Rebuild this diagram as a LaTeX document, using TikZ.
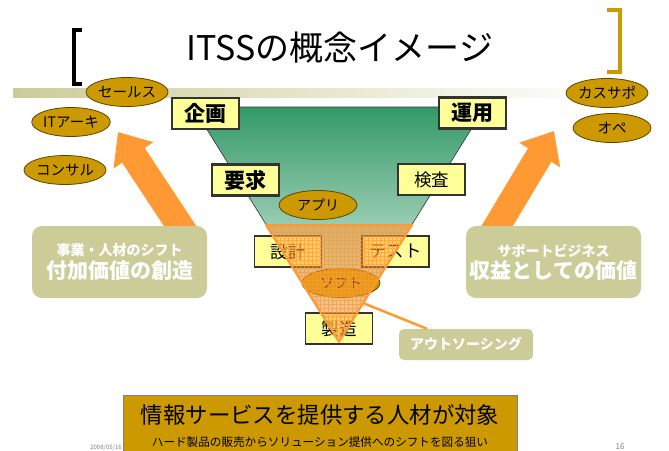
\documentclass[tikz,border=0pt]{standalone}
\usepackage{fontspec}
\setmainfont{Noto Sans CJK JP}
\usetikzlibrary{arrows.meta,shapes.geometric}

\definecolor{gold}{HTML}{CC9900}
\definecolor{rolebrown}{HTML}{5C4500}
\definecolor{paleyellow}{HTML}{FFFF99}
\definecolor{boxline}{HTML}{333333}
\definecolor{khaki}{HTML}{CCCC99}
\definecolor{arroworange}{HTML}{FF9933}
\definecolor{funnelgreen}{HTML}{339966}

\tikzset{
    role/.style={ellipse, draw=rolebrown, line width=0.8pt, fill=gold,
        minimum width=78pt, minimum height=29pt, inner sep=0pt,
        font=\fontsize{14.5}{14.5}\selectfont},
    phase/.style={rectangle, draw=boxline, line width=1.2pt, fill=paleyellow,
        minimum width=67pt, minimum height=31pt, inner sep=0pt,
        font=\fontsize{17.5}{17.5}\selectfont},
    keyphase/.style={phase, line width=2.5pt, font=\bfseries\fontsize{21}{21}\selectfont},
    shiftbox/.style={rectangle, rounded corners=10pt, fill=khaki, text=white,
        inner sep=0pt, align=center, font=\bfseries},
    bigarrow/.style={draw=arroworange, line width=27pt,
        -{Triangle[length=28pt, width=46pt]}},
}

\begin{document}
\begin{tikzpicture}[x=1pt, y=-1pt]
    \useasboundingbox (0,0) rectangle (669,450);
    \clip (0,0) rectangle (669,450);

    % title
    \shade[left color=khaki, right color=white] (13,88) rectangle (600,97);
    \draw[line width=4pt] (82,30) -- (74,30) -- (74,84) -- (82,84);
    \draw[gold, line width=4.5pt] (607,10) -- (620,10) -- (620,72) -- (607,72);
    \node[font=\fontsize{34}{34}\selectfont] (title) at (340,48) {ITSSの概念イメージ};

    % funnel
    \shade[top color=funnelgreen, middle color=funnelgreen!22, bottom color=white,
        draw=boxline, line width=0.6pt] (193,107) -- (485,107) -- (339,342) -- cycle;

    \node[keyphase] (plan) at (205.5,113.5) {企画};
    \node[keyphase] (ops) at (472.5,113) {運用};
    \node[keyphase] (req) at (245.5,180) {要求};
    \node[phase] (insp) at (431.5,179.5) {検査};
    \node[phase] (design) at (288,251.5) {設計};
    \node[phase] (test) at (395.5,251.5) {テスト};
    \node[phase] (build) at (339,328.5) {製造};

    \node[role, font=\fontsize{14}{14}\selectfont] (app) at (318,205) {アプリ};
    \node[role, font=\fontsize{14}{14}\selectfont] (soft) at (341,283) {ソフト};

    % outsourced part
    \begin{scope}
        \clip (266,225) -- (412,225) -- (339,342) -- cycle;
        \fill[arroworange, opacity=0.5] (260,220) rectangle (420,345);
        \draw[arroworange, line width=0.5pt, opacity=0.7, step=4pt] (260,220) grid (420,345);
    \end{scope}
    \draw[arroworange, line width=2pt, line join=round] (266,225) -- (412,225) -- (339,342) -- cycle;

    \coordinate (softedge) at (363,303);
    \node[shiftbox, rounded corners=5pt, minimum width=134pt, minimum height=31pt,
        font=\bfseries\fontsize{14}{14}\selectfont] (outsrc) at (466,344.5) {アウトソーシング};
    \draw[arroworange, line width=2.5pt] (outsrc) -- (softedge);

    % shifts
    \coordinate (ltip) at (118,132);
    \coordinate (lbase) at (190,241);
    \coordinate (rtip) at (554,131);
    \coordinate (rbase) at (487,243);
    \draw[bigarrow] (lbase) -- (ltip);
    \draw[bigarrow] (rbase) -- (rtip);

    \node[shiftbox, minimum width=175pt, minimum height=72pt] (lshift) at (119.5,262)
        {\fontsize{14}{16}\selectfont 事業・人材のシフト\\[2pt]\fontsize{21}{23}\selectfont 付加価値の創造};
    \node[shiftbox, minimum width=175pt, minimum height=72pt] (rshift) at (553.5,262)
        {\fontsize{14}{16}\selectfont サポートビジネス\\[2pt]\fontsize{21}{23}\selectfont 収益としての価値};

    \node[role] (sales) at (127,92) {セールス};
    \node[role] (itarch) at (71,122) {ITアーキ};
    \node[role] (consul) at (65,170) {コンサル};
    \node[role] (cussup) at (607,93) {カスサポ};
    \node[role] (oper) at (612,128) {オペ};

    % footer
    \node[text=gray, font=\fontsize{6}{6}\selectfont] (date) at (106,448) {2008/05/16};
    \node[rectangle, draw=gray, line width=1pt, fill=gold, minimum width=394pt,
        minimum height=66pt] (target) at (320,428) {};
    \node[font=\fontsize{22.4}{22.4}\selectfont] (targetmain) at (320,415) {情報サービスを提供する人材が対象};
    \node[font=\fontsize{11.6}{11.6}\selectfont] (targetsub) at (320,442) {ハード製品の販売からソリューション提供へのシフトを図る狙い};
    \node[text=gray, font=\fontsize{8}{8}\selectfont] (page) at (620,447) {16};
\end{tikzpicture}
\end{document}
